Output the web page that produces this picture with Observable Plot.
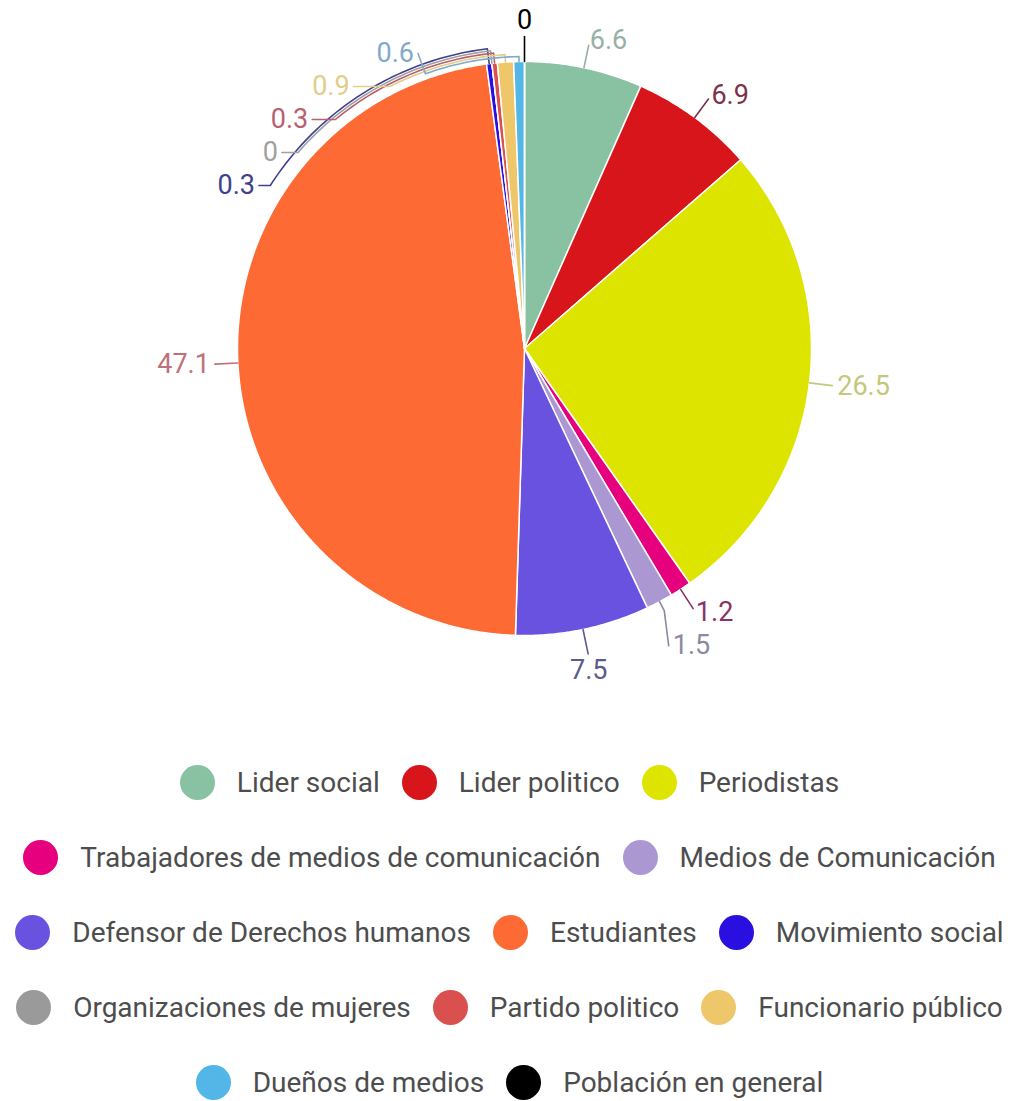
<!DOCTYPE html>
<html><head><meta charset="utf-8">
<script src="https://cdn.jsdelivr.net/npm/d3@7"></script>
<script src="https://cdn.jsdelivr.net/npm/@observablehq/plot@0.6"></script>
<style>
body{margin:0;background:#fff;font-family:Roboto,sans-serif;}
#legend{width:1019px;}
.row{height:75px;display:flex;justify-content:center;align-items:center;white-space:nowrap;}
.item{display:flex;align-items:center;margin:0 11px;}
.dot{width:35px;height:35px;border-radius:50%;margin-right:22px;flex:none;}
.lab{font-size:28px;color:#4d4d4d;}
</style></head><body>
<div id="chart"></div><div id="legend"></div>
<script>
const categories = ["Lider social","Lider politico","Periodistas","Trabajadores de medios de comunicación","Medios de Comunicación","Defensor de Derechos humanos","Estudiantes","Movimiento social","Organizaciones de mujeres","Partido politico","Funcionario público","Dueños de medios","Población en general"];
const values = [6.6, 6.9, 26.5, 1.2, 1.5, 7.5, 47.1, 0.3, 0, 0.3, 0.9, 0.6, 0];
const colors = ["#88c2a2","#d9151c","#dde400","#e6007e","#ab98d3","#6a52e0","#fe6a34","#2a10e0","#9a9a9a","#d9504f","#edc76a","#52b6e6","#000000"];
const labelColors = ["#98b0a6","#7d3148","#c4c87a","#8b3166","#8c8aa0","#5c5a8e","#c0707a","#40408c","#a0a0a0","#b86070","#e2cd8a","#82aac8","#000000"];
const legendRows = [3,2,3,3,2];

const W=1019, H=745, CX=524, CY=348, R=287;
const FS=27, LH=33, RL=R+28;
const TAU=2*Math.PI;
const total = d3.sum(values);
let acc=0;
const slices = categories.map((c,i)=>{
  const a0=acc/total*TAU; acc+=values[i]; const a1=acc/total*TAU;
  return {c, v:values[i], a0, a1, am:(a0+a1)/2, i};
});
// slice polygons
const slicePts = [];
for (const s of slices) {
  slicePts.push({c:s.c, x:0, y:0});
  const n = Math.max(2, Math.ceil((s.a1-s.a0)/(Math.PI/360)));
  for (let k=0;k<=n;k++){const a=s.a0+(s.a1-s.a0)*k/n; slicePts.push({c:s.c, x:R*Math.sin(a), y:R*Math.cos(a)});}
  slicePts.push({c:s.c, x:0, y:0});
}
// label layout
const labels = slices.map(s=>({...s, t:String(s.v), color:labelColors[s.i]}));
const right = labels.filter(l=>l.am<Math.PI).sort((a,b)=>a.am-b.am);
const left = labels.filter(l=>l.am>=Math.PI).sort((a,b)=>b.am-a.am);
const placed=[];
function bbox(l){const w=l.t.length*0.56*FS; const x0=l.anchor==="start"?l.x:l.anchor==="end"?l.x-w:l.x-w/2; return [x0,l.y-FS/2,x0+w,l.y+FS/2];}
function overlap(a,b){const A=bbox(a),B=bbox(b);return A[0]<B[2]&&B[0]<A[2]&&A[1]<B[3]&&B[1]<A[3];}
function anchorOf(x){return x>10?"start":x<-10?"end":"middle";}
for (const side of [right,left]) {
  let prev=null, j=0;
  for (const l of side) {
    const s=Math.sin(l.am), c=Math.cos(l.am);
    const th = c>0?0.1:0.25;
    l.anchor = s>th?"start":s<-th?"end":"middle";
    l.x=RL*s; l.y=RL*c;
    if (l.anchor==="middle") l.y += c>0?13:-13;
    l.pushed=false;
    if (c>0) {
      if (prev && prev.top && l.y>prev.y-LH) {
        l.y=prev.y-LH; l.pushed=true;
        l.x=(side===left?-1:1)*Math.sqrt(Math.max(0,RL*RL-l.y*l.y));
        l.anchor=anchorOf(l.x); l.j=j++;
      }
      l.top=true;
    } else {
      let guard=0;
      while (guard++<20) {const o=placed.find(p=>overlap(p,l)); if(!o) break; l.y=o.y-LH; l.pushed=true;}
      l.top=false;
    }
    placed.push(l); prev=l;
  }
}
function norm(a,isLeft){ if(isLeft && a<=0) a+=TAU; return a; }
// leader lines
for (const l of labels) {
  const pts=[];
  const sg = l.anchor==="start"?1:l.anchor==="end"?-1:0;
  if (!l.pushed) {
    const r2 = l.anchor==="middle"?RL-3:RL-5;
    pts.push({x:R*Math.sin(l.am),y:R*Math.cos(l.am)},{x:r2*Math.sin(l.am),y:r2*Math.cos(l.am)});
  } else if (l.top) {
    const Rk=R+5+2.5*l.j;
    const isLeft=l.x<0;
    const p0={x:l.x-sg*4,y:l.y};
    pts.push(p0);
    let a0;
    if (Math.abs(l.y)<Rk) {
      const xa=(isLeft?-1:1)*Math.sqrt(Rk*Rk-l.y*l.y);
      a0=norm(Math.atan2(xa,l.y),isLeft);
    } else {
      a0=norm(Math.atan2(p0.x,p0.y),isLeft);
    }
    const n=Math.max(2,Math.ceil(Math.abs(l.am-a0)/(Math.PI/180)));
    for(let k=0;k<=n;k++){const a=a0+(l.am-a0)*k/n; pts.push({x:Rk*Math.sin(a),y:Rk*Math.cos(a)});}
    pts.push({x:R*Math.sin(l.am),y:R*Math.cos(l.am)});
  } else {
    pts.push({x:R*Math.sin(l.am),y:R*Math.cos(l.am)},{x:(R+10)*Math.sin(l.am),y:(R+10)*Math.cos(l.am)},{x:l.x-sg*4,y:l.y});
  }
  l.pts=pts;
}
const marks=[
  Plot.line(slicePts,{x:"x",y:"y",z:"c",fill:"c",stroke:"white",strokeWidth:1.5,curve:"linear"})
];
for (const l of labels) {
  marks.push(Plot.line(l.pts,{x:"x",y:"y",stroke:l.color,strokeWidth:1.6}));
  marks.push(Plot.text([l],{x:"x",y:"y",text:"t",textAnchor:l.anchor,lineAnchor:"middle",fill:l.color,fontSize:FS}));
}
const chart = Plot.plot({
  width:W, height:H, margin:0,
  style:{fontFamily:"Roboto, sans-serif", background:"#fff"},
  x:{domain:[-CX, W-CX], axis:null},
  y:{domain:[CY-H, CY], axis:null},
  color:{domain:categories, range:colors},
  marks
});
document.getElementById("chart").appendChild(chart);
// legend
const lg=document.getElementById("legend");
let idx=0;
for (const n of legendRows) {
  const row=document.createElement("div"); row.className="row";
  for (let k=0;k<n;k++,idx++){
    const it=document.createElement("div"); it.className="item";
    const d=document.createElement("span"); d.className="dot"; d.style.background=colors[idx];
    const t=document.createElement("span"); t.className="lab"; t.textContent=categories[idx];
    it.appendChild(d); it.appendChild(t); row.appendChild(it);
  }
  lg.appendChild(row);
}
</script></body></html>
